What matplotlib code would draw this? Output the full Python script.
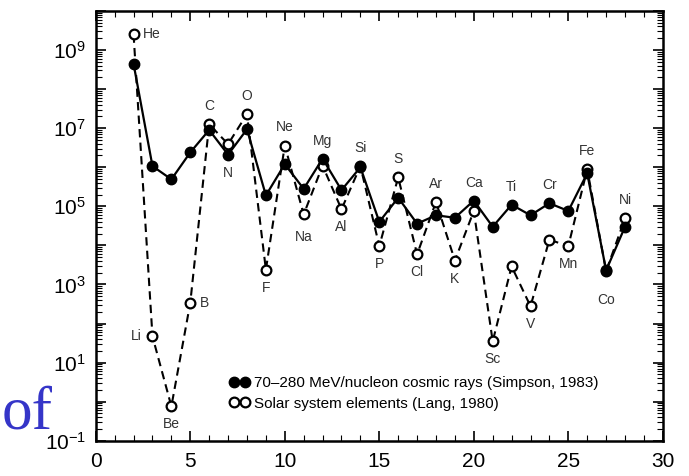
import numpy as np
import matplotlib
matplotlib.use("Agg")
import matplotlib.pyplot as plt
from matplotlib.ticker import LogLocator, FuncFormatter, MultipleLocator, NullFormatter

plt.rcParams['font.family'] = ['Liberation Sans', 'DejaVu Sans']
plt.rcParams['mathtext.default'] = 'regular'

# Данные: атомный номер, элементы, распространённость
Z = list(range(2, 29))
elements = ['He', 'Li', 'Be', 'B', 'C', 'N', 'O', 'F', 'Ne', 'Na', 'Mg', 'Al', 'Si', 'P',
            'S', 'Cl', 'Ar', 'K', 'Ca', 'Sc', 'Ti', 'V', 'Cr', 'Mn', 'Fe', 'Co', 'Ni']
cosmic = [4.4e8, 1.07e6, 4.9e5, 2.4e6, 9e6, 2.1e6, 9.4e6, 1.9e5, 1.2e6, 2.8e5, 1.66e6,
          2.6e5, 1.0e6, 4e4, 1.66e5, 3.6e4, 5.9e4, 5.1e4, 1.4e5, 3e4, 1.1e5, 5.9e4,
          1.2e5, 7.6e4, 7e5, 2.3e3, 3e4]
solar = [2.5e9, 47, 0.76, 340, 1.26e7, 3.9e6, 2.3e7, 2.4e3, 3.6e6, 6.2e4, 1.1e6, 8.4e4,
         1.07e6, 9.6e3, 5.5e5, 5.9e3, 1.3e5, 4.1e3, 7.6e4, 35, 2.9e3, 277, 1.4e4, 9.6e3,
         8.9e5, 2.2e3, 4.9e4]
x_ticks = [0, 5, 10, 15, 20, 25, 30]
cosmic_label = '70–280 MeV/nucleon cosmic rays (Simpson, 1983)'
solar_label = 'Solar system elements (Lang, 1980)'

# Где ставить подпись элемента
label_side = ['right', 'left', 'below', 'right', 'above', 'below', 'above', 'below', 'above',
              'below', 'above', 'below', 'above', 'below', 'above', 'below', 'above', 'below',
              'above', 'below', 'above', 'below', 'above', 'below', 'above', 'below', 'above']

fig = plt.figure(figsize=(6.89, 4.76), dpi=100)
ax = fig.add_axes([0.139, 0.074, 0.823, 0.903])

ax.plot(Z, solar, linestyle=(0, (4, 2.5)), color='black', linewidth=1.5,
        marker='o', markersize=7, markerfacecolor='white', markeredgewidth=1.6,
        markeredgecolor='black', label=solar_label, zorder=2)
ax.plot(Z, cosmic, linestyle='-', color='black', linewidth=1.6,
        marker='o', markersize=7.5, markerfacecolor='black', markeredgecolor='black',
        label=cosmic_label, zorder=3)

for z, el, c, s, side in zip(Z, elements, cosmic, solar, label_side):
    if side == 'above':
        y, off, ha, va = max(c, s), (0, 8), 'center', 'bottom'
    elif side == 'below':
        y, off, ha, va = min(c, s), (0, -8), 'center', 'top'
    elif side == 'left':
        y, off, ha, va = s, (-8, 0), 'right', 'center'
    else:
        y, off, ha, va = s, (7, 0), 'left', 'center'
    if el == 'Co':
        off = (0, -16)
    if el == 'Na':
        off = (0, -11)
    ax.annotate(el, (z, y), xytext=off, textcoords='offset points', ha=ha, va=va,
                fontsize=10, color='#333333')

ax.set_yscale('log')
ax.set_xlim(0, 30)
ax.set_ylim(1e-1, 1e10)

ax.set_xticks(x_ticks)
ax.xaxis.set_minor_locator(MultipleLocator(1))
ax.yaxis.set_major_locator(LogLocator(base=10, numticks=20))
ax.yaxis.set_minor_locator(LogLocator(base=10, subs=np.arange(2, 10), numticks=20))
ax.yaxis.set_minor_formatter(NullFormatter())


def fmt(v, pos):
    e = int(round(np.log10(v)))
    if e % 2 == 1 or e == -1:
        return '$10^{%d}$' % e
    return ''


ax.yaxis.set_major_formatter(FuncFormatter(fmt))
ax.tick_params(which='both', direction='in', top=True, right=True, labelsize=15)
ax.tick_params(which='major', length=7, width=1.2)
ax.tick_params(which='minor', length=4, width=0.8)
ax.tick_params(axis='x', pad=8)
ax.tick_params(axis='y', pad=7)
for spine in ax.spines.values():
    spine.set_linewidth(1.8)

handles, labels = ax.get_legend_handles_labels()
ax.legend(handles[::-1], labels[::-1], loc='center left', bbox_to_anchor=(0.222, 0.11),
          frameon=False, numpoints=2, handlelength=1.3, handletextpad=0.3,
          labelspacing=0.4, fontsize=11, borderpad=0)

fig.text(0.002, 0.1, 'of', family='Liberation Serif', fontsize=44, color='#3535c8',
         ha='left', va='baseline')

fig.savefig('out.png', dpi=100)
